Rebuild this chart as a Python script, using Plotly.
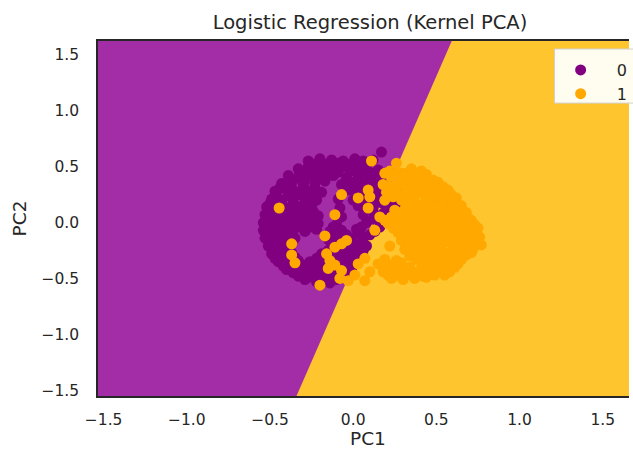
import numpy as np
import plotly.graph_objects as go

# Kernel-PCA projections of the training set, class 0
class0_points = [
    (0.17, 0.63),
    (-0.27, 0.55), (-0.20, 0.57), (-0.13, 0.56), (-0.06, 0.55), (0.01, 0.57), (0.06, 0.55), (0.12, 0.56),
    (-0.23, 0.52), (-0.16, 0.52), (-0.09, 0.53), (-0.02, 0.52), (0.04, 0.52), (0.09, 0.53),
    (-0.33, 0.48), (-0.27, 0.50), (-0.20, 0.49), (-0.13, 0.47), (-0.06, 0.50), (0.01, 0.48), (0.08, 0.49), (0.15, 0.47),
    (-0.30, 0.45), (-0.23, 0.45), (-0.16, 0.44), (-0.09, 0.45), (-0.02, 0.46), (0.05, 0.45), (0.12, 0.44),
    (-0.39, 0.42), (-0.33, 0.41), (-0.26, 0.43), (-0.19, 0.41), (-0.12, 0.42), (-0.04, 0.40), (0.03, 0.43), (0.10, 0.41), (0.17, 0.42),
    (-0.36, 0.38), (-0.29, 0.38), (-0.22, 0.39), (-0.03, 0.37), (0.04, 0.38), (0.11, 0.38), (0.18, 0.39),
    (-0.43, 0.35), (-0.37, 0.36), (-0.30, 0.34), (-0.23, 0.35), (-0.17, 0.37), (-0.07, 0.34), (0.00, 0.36), (0.07, 0.35), (0.14, 0.34), (0.21, 0.36),
    (-0.44, 0.31), (-0.37, 0.31), (-0.30, 0.32), (-0.23, 0.31), (0.02, 0.31), (0.09, 0.32), (0.16, 0.31), (0.23, 0.31),
    (-0.47, 0.28), (-0.40, 0.29), (-0.33, 0.27), (-0.26, 0.28), (-0.19, 0.27), (-0.02, 0.29), (0.05, 0.27), (0.12, 0.28), (0.19, 0.27), (0.25, 0.29),
    (-0.46, 0.24), (-0.39, 0.24), (-0.32, 0.25), (-0.25, 0.24), (0.04, 0.24), (0.11, 0.25), (0.18, 0.24),
    (-0.49, 0.21), (-0.43, 0.20), (-0.36, 0.22), (-0.29, 0.21), (-0.22, 0.20), (-0.09, 0.21), (0.00, 0.20), (0.07, 0.22), (0.14, 0.21), (0.22, 0.19),
    (-0.50, 0.17), (-0.43, 0.17), (-0.36, 0.18), (-0.29, 0.17), (0.08, 0.17), (0.18, 0.17), (0.25, 0.18),
    (-0.52, 0.14), (-0.46, 0.15), (-0.39, 0.13), (-0.32, 0.14), (-0.25, 0.15), (-0.08, 0.13), (0.03, 0.15), (0.12, 0.14), (0.23, 0.13), (0.28, 0.15),
    (-0.50, 0.10), (-0.43, 0.10), (-0.37, 0.11), (-0.30, 0.10), (-0.24, 0.10), (0.12, 0.10), (0.22, 0.10),
    (-0.53, 0.07), (-0.47, 0.08), (-0.40, 0.06), (-0.34, 0.07), (-0.27, 0.08), (-0.21, 0.06), (-0.07, 0.05), (0.06, 0.07), (0.18, 0.08), (0.26, 0.06),
    (-0.51, 0.03), (-0.45, 0.03), (-0.38, 0.04), (-0.31, 0.03), (-0.25, 0.03), (0.12, 0.03), (0.23, 0.03),
    (-0.54, 0.00), (-0.48, 0.01), (-0.42, -0.01), (-0.35, 0.00), (-0.28, 0.01), (-0.21, -0.01), (-0.10, -0.02), (0.08, 0.00), (0.20, 0.01),
    (-0.51, -0.04), (-0.45, -0.04), (-0.39, -0.03), (-0.32, -0.04), (-0.25, -0.04), (-0.12, -0.04), (0.05, -0.04), (0.16, -0.04),
    (-0.54, -0.07), (-0.48, -0.08), (-0.42, -0.06), (-0.36, -0.07), (-0.29, -0.08), (-0.22, -0.06), (-0.14, -0.08), (-0.07, -0.07), (0.02, -0.06), (0.13, -0.08),
    (-0.50, -0.11), (-0.44, -0.11), (-0.38, -0.10), (-0.11, -0.11), (-0.04, -0.11), (0.04, -0.10), (0.10, -0.11),
    (-0.53, -0.14), (-0.47, -0.15), (-0.41, -0.13), (-0.35, -0.14), (-0.15, -0.15), (-0.08, -0.13), (-0.01, -0.14), (0.06, -0.15),
    (-0.48, -0.18), (-0.43, -0.18), (-0.10, -0.18), (-0.03, -0.17), (0.05, -0.18),
    (-0.51, -0.21), (-0.45, -0.22), (-0.40, -0.20), (-0.13, -0.21), (-0.06, -0.22), (0.01, -0.20), (0.08, -0.21),
    (-0.46, -0.25), (-0.40, -0.25), (-0.15, -0.25), (-0.08, -0.24), (0.00, -0.25), (0.06, -0.25),
    (-0.49, -0.28), (-0.43, -0.29), (-0.37, -0.27), (-0.19, -0.28), (-0.11, -0.29), (-0.04, -0.27), (0.03, -0.28),
    (-0.47, -0.32), (-0.41, -0.32), (-0.35, -0.31), (-0.22, -0.32), (-0.15, -0.32), (-0.08, -0.31), (0.00, -0.32),
    (-0.45, -0.35), (-0.39, -0.36), (-0.33, -0.34), (-0.26, -0.35), (-0.19, -0.36), (-0.12, -0.34), (-0.05, -0.35), (0.02, -0.36),
    (-0.42, -0.39), (-0.36, -0.39), (-0.30, -0.38), (-0.24, -0.39), (-0.17, -0.39), (-0.10, -0.38), (-0.03, -0.39),
    (-0.40, -0.42), (-0.34, -0.41), (-0.28, -0.43), (-0.22, -0.42), (-0.15, -0.41), (-0.08, -0.43), (-0.01, -0.42),
    (-0.36, -0.45), (-0.30, -0.45), (-0.24, -0.46), (-0.17, -0.45), (-0.10, -0.46), (-0.04, -0.45),
    (-0.33, -0.48), (-0.27, -0.49), (-0.20, -0.48), (-0.13, -0.50), (-0.06, -0.48),
    (-0.29, -0.51), (-0.17, -0.51), (-0.10, -0.51),
    (-0.22, -0.53), (-0.14, -0.54),
    (0.30, 0.30), (0.27, 0.19), (0.31, 0.11), (0.37, 0.36),
]

# Kernel-PCA projections of the training set, class 1
class1_points = [
    (-0.445, 0.13), (-0.07, 0.25), (-0.11, 0.07), (-0.17, -0.12), (-0.37, -0.19), (-0.37, -0.29),
    (-0.35, -0.36), (-0.20, -0.56), (-0.16, -0.28), (-0.14, -0.34), (-0.15, -0.41), (-0.11, -0.22),
    (-0.07, -0.19), (-0.04, -0.16), (-0.11, -0.38), (-0.07, -0.43), (-0.08, -0.50), (-0.03, -0.52),
    (0.01, -0.47), (0.03, -0.37), (0.07, -0.32), (0.07, -0.52), (0.10, -0.44), (0.03, 0.22), (0.09, 0.13),
    (0.09, 0.29), (0.10, 0.23), (0.11, 0.55), (0.19, 0.44), (0.18, 0.34), (0.19, 0.20), (0.16, 0.05),
    (0.13, -0.07), (0.26, 0.53), (0.29, 0.44), (0.29, 0.20), (0.25, 0.11), (0.22, 0.46),
    (0.35, 0.48), (0.41, 0.46),
    (0.26, 0.44), (0.32, 0.44), (0.38, 0.44), (0.44, 0.43),
    (0.23, 0.40), (0.30, 0.41), (0.36, 0.39), (0.43, 0.40), (0.48, 0.38),
    (0.26, 0.37), (0.33, 0.37), (0.39, 0.36), (0.45, 0.37), (0.51, 0.36),
    (0.22, 0.32), (0.29, 0.34), (0.35, 0.33), (0.42, 0.32), (0.48, 0.34), (0.54, 0.32),
    (0.25, 0.30), (0.32, 0.29), (0.38, 0.30), (0.45, 0.29), (0.51, 0.30), (0.57, 0.29),
    (0.20, 0.27), (0.27, 0.25), (0.34, 0.26), (0.40, 0.27), (0.47, 0.25), (0.53, 0.26), (0.59, 0.25),
    (0.24, 0.23), (0.31, 0.22), (0.37, 0.23), (0.44, 0.22), (0.50, 0.23), (0.56, 0.22), (0.62, 0.22),
    (0.36, 0.19), (0.43, 0.18), (0.49, 0.20), (0.56, 0.19), (0.62, 0.18),
    (0.33, 0.16), (0.40, 0.15), (0.46, 0.16), (0.53, 0.15), (0.59, 0.16), (0.65, 0.15),
    (0.31, 0.12), (0.38, 0.11), (0.45, 0.13), (0.52, 0.12), (0.59, 0.11), (0.65, 0.12),
    (0.27, 0.09), (0.34, 0.08), (0.41, 0.09), (0.48, 0.08), (0.55, 0.09), (0.62, 0.08), (0.68, 0.09),
    (0.23, 0.05), (0.30, 0.04), (0.36, 0.06), (0.43, 0.05), (0.50, 0.04), (0.57, 0.06), (0.63, 0.05), (0.69, 0.04),
    (0.19, 0.02), (0.26, 0.01), (0.33, 0.02), (0.39, 0.01), (0.46, 0.02), (0.53, 0.01), (0.60, 0.02), (0.66, 0.01), (0.71, 0.02),
    (0.21, -0.01), (0.28, -0.03), (0.35, -0.02), (0.42, -0.01), (0.48, -0.03), (0.55, -0.02), (0.62, -0.01), (0.68, -0.03), (0.73, -0.02),
    (0.24, -0.05), (0.31, -0.06), (0.38, -0.05), (0.45, -0.06), (0.51, -0.05), (0.58, -0.06), (0.64, -0.05), (0.70, -0.06), (0.75, -0.05),
    (0.27, -0.09), (0.34, -0.10), (0.40, -0.08), (0.47, -0.09), (0.54, -0.10), (0.61, -0.08), (0.67, -0.09), (0.73, -0.10),
    (0.31, -0.12), (0.37, -0.13), (0.44, -0.12), (0.51, -0.13), (0.57, -0.12), (0.64, -0.13), (0.70, -0.12), (0.76, -0.13),
    (0.29, -0.16), (0.36, -0.17), (0.43, -0.15), (0.50, -0.16), (0.56, -0.17), (0.63, -0.15), (0.69, -0.16), (0.75, -0.17),
    (0.33, -0.19), (0.40, -0.20), (0.47, -0.19), (0.53, -0.20), (0.60, -0.19), (0.66, -0.20), (0.72, -0.19), (0.77, -0.20),
    (0.22, -0.21), (0.31, -0.24), (0.39, -0.23), (0.46, -0.22), (0.53, -0.24), (0.60, -0.23), (0.66, -0.22), (0.72, -0.24),
    (0.37, -0.26), (0.44, -0.27), (0.51, -0.26), (0.58, -0.27), (0.65, -0.26), (0.71, -0.27),
    (0.34, -0.30), (0.41, -0.31), (0.48, -0.29), (0.55, -0.30), (0.62, -0.31), (0.68, -0.29),
    (0.19, -0.33), (0.26, -0.34), (0.38, -0.33), (0.45, -0.34), (0.52, -0.33), (0.59, -0.34), (0.65, -0.33),
    (0.15, -0.37), (0.22, -0.38), (0.29, -0.36), (0.43, -0.37), (0.50, -0.38), (0.57, -0.36), (0.63, -0.37),
    (0.20, -0.40), (0.27, -0.41), (0.34, -0.40), (0.41, -0.41), (0.48, -0.40), (0.55, -0.41), (0.61, -0.40),
    (0.18, -0.44), (0.25, -0.45), (0.32, -0.43), (0.39, -0.44), (0.46, -0.45), (0.52, -0.43), (0.58, -0.44),
    (0.21, -0.47), (0.28, -0.48), (0.35, -0.47), (0.42, -0.48), (0.49, -0.47), (0.55, -0.47),
    (0.23, -0.50), (0.30, -0.51), (0.37, -0.50), (0.44, -0.49),
]

# Fitted logistic regression on (PC1, PC2)
model_coef = [8.5, -2.5]
model_intercept = -0.98

tick_values = [-1.5, -1.0, -0.5, 0.0, 0.5, 1.0, 1.5]
tick_labels = ["\u22121.5", "\u22121.0", "\u22120.5", "0.0", "0.5", "1.0", "1.5"]

class_names = ["0", "1"]
region_colors = ["#A32DA6", "#FFC52E"]
point_colors = ["#800080", "#FFA800"]

pc1_0 = [p[0] for p in class0_points]
pc2_0 = [p[1] for p in class0_points]
pc1_1 = [p[0] for p in class1_points]
pc2_1 = [p[1] for p in class1_points]

all_pc1 = pc1_0 + pc1_1
all_pc2 = pc2_0 + pc2_1

# grid extent: one unit past the data on each side
gx0, gx1 = min(all_pc1) - 1, max(all_pc1) + 1
gy0, gy1 = min(all_pc2) - 1, max(all_pc2) + 1


def boundary_x(y):
    # PC1 where coef . (pc1, pc2) + intercept == 0, i.e. P(class 1) = 0.5
    return -(model_coef[1] * y + model_intercept) / model_coef[0]


bx_lo, bx_hi = boundary_x(gy0), boundary_x(gy1)

FONT = "DejaVu Sans"
TXT = "#262626"

fig = go.Figure()
# predicted class 0 over the whole grid, class 1 on the side where the logit is positive
fig.add_trace(go.Scatter(
    x=[gx0, gx1, gx1, gx0, gx0], y=[gy0, gy0, gy1, gy1, gy0],
    mode="lines", fill="toself", fillcolor=region_colors[0], line=dict(width=0),
    hoverinfo="skip", showlegend=False,
))
fig.add_trace(go.Scatter(
    x=[bx_lo, gx1, gx1, bx_hi, bx_lo], y=[gy0, gy0, gy1, gy1, gy0],
    mode="lines", fill="toself", fillcolor=region_colors[1], line=dict(width=0),
    hoverinfo="skip", showlegend=False,
))
fig.add_trace(go.Scatter(
    x=pc1_0, y=pc2_0, mode="markers", name=class_names[0],
    marker=dict(color=point_colors[0], size=11, line=dict(width=0)),
))
fig.add_trace(go.Scatter(
    x=pc1_1, y=pc2_1, mode="markers", name=class_names[1],
    marker=dict(color=point_colors[1], size=11, line=dict(width=0)),
))

x_lo, x_hi = -1.534, 1.658
y_lo, y_hi = -1.551, 1.623

fig.update_layout(
    width=633, height=452,
    margin=dict(l=98, r=0, t=41, b=56),
    paper_bgcolor="white", plot_bgcolor="white",
    font=dict(family=FONT, size=15.5, color=TXT),
    title=dict(text="Logistic Regression (Kernel PCA)", x=370 / 633, xref="container",
               xanchor="center", y=1 - 22 / 452, yref="container", yanchor="middle",
               font=dict(family=FONT, size=19.5, color=TXT)),
    showlegend=True,
    legend=dict(x=(548 - 98) / 535, y=1 - (53 - 41) / 354.4, xanchor="left", yanchor="top",
                bgcolor="rgba(0,0,0,0)", borderwidth=0, font=dict(size=16, color=TXT),
                itemwidth=62),
    # bottom and top spines; the right spine lies past the figure edge
    xaxis=dict(range=[x_lo, x_hi], tickvals=tick_values, ticktext=tick_labels,
               showgrid=False, zeroline=False, showline=True, mirror=True,
               linecolor=TXT, linewidth=1.5, ticks="", ticklabelstandoff=9),
    yaxis=dict(range=[y_lo, y_hi], tickvals=tick_values, ticktext=tick_labels,
               showgrid=False, zeroline=False, showline=True, mirror=False,
               linecolor=TXT, linewidth=1.5, ticks="", ticklabelstandoff=14,
               title=dict(text="PC2", font=dict(size=18.5, color=TXT), standoff=10)),
    shapes=[dict(type="rect", xref="paper", yref="paper",
                 x0=(558 - 98) / 535, x1=(645 - 98) / 535,
                 y0=1 - (103 - 41) / 354.4, y1=1 - (49 - 41) / 354.4,
                 fillcolor="#FFFDF0", line=dict(color="#D0D0D0", width=1), layer="above")],
    annotations=[dict(text="PC1", xref="paper", yref="paper", x=(370 - 98) / 535, y=-(438 - 395.7) / 354.4,
                      xanchor="center", yanchor="middle", showarrow=False,
                      font=dict(family=FONT, size=18.5, color=TXT))],
)

fig.write_html("out.html")
